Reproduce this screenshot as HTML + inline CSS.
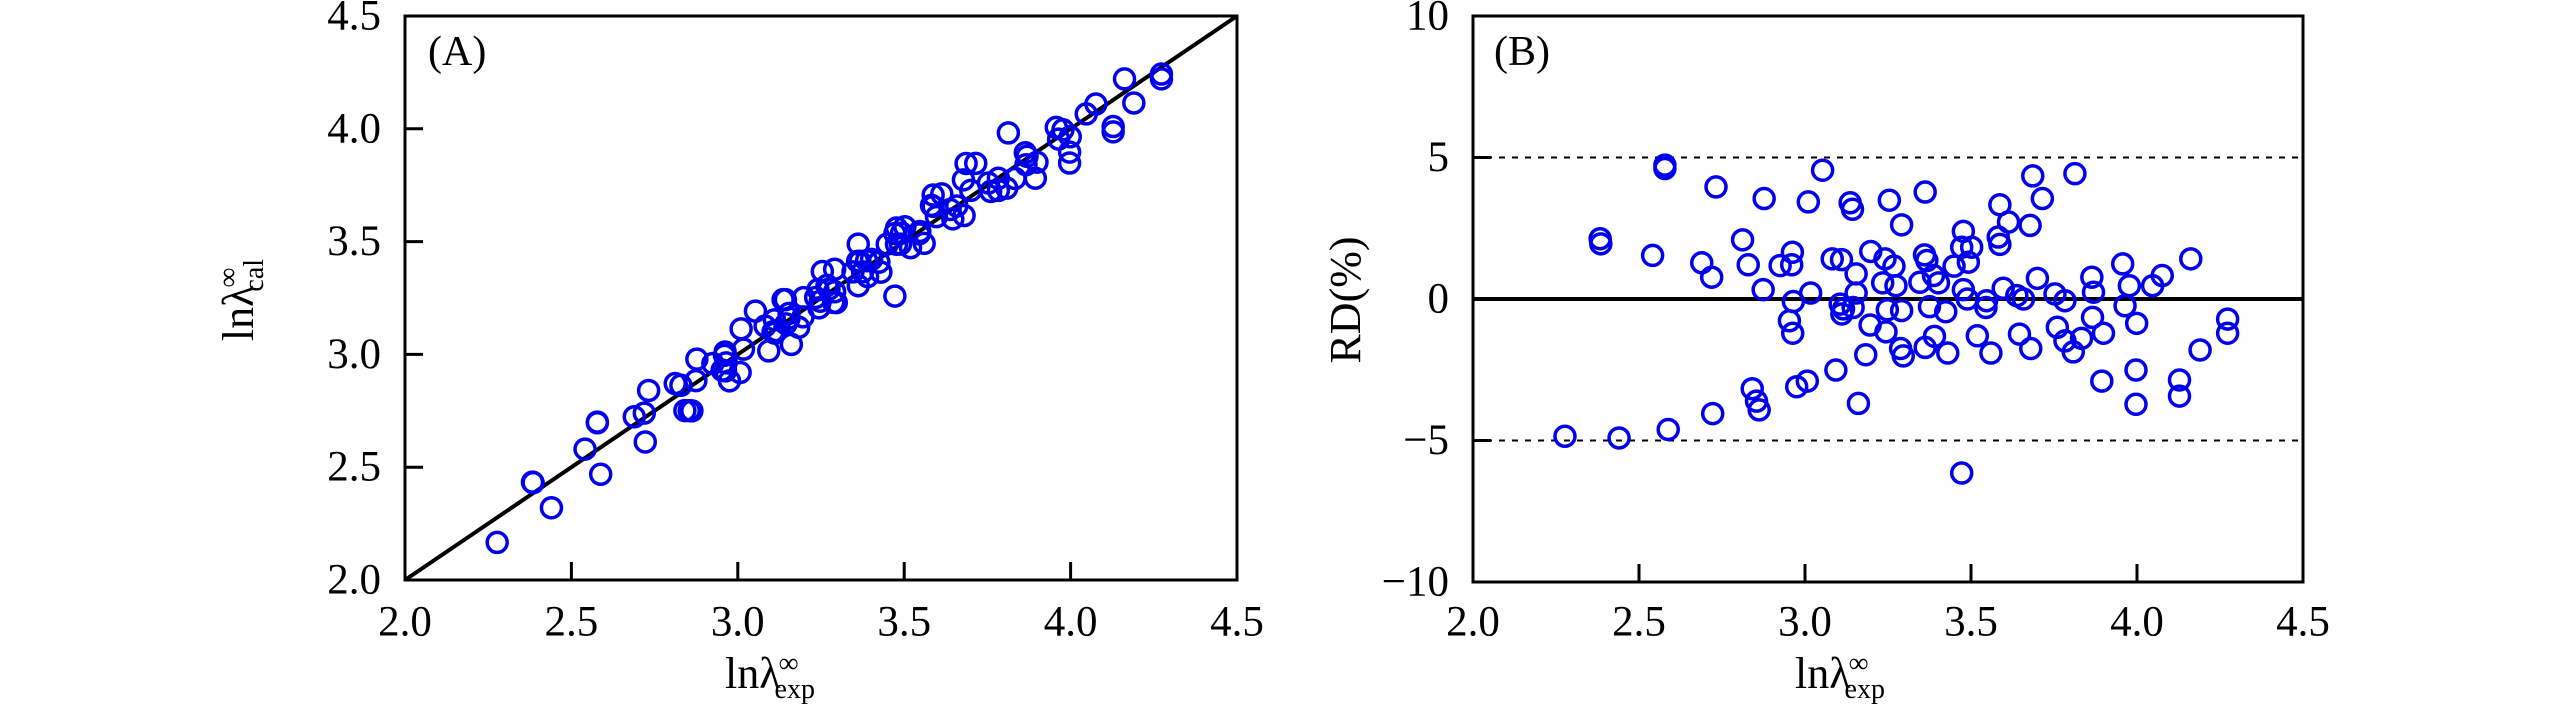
<!DOCTYPE html>
<html><head><meta charset="utf-8"><style>
html,body{margin:0;padding:0;background:#fff;}
svg{display:block;font-family:"Liberation Serif",serif;}
</style></head><body>
<svg id="fig" width="2567" height="709" viewBox="0 0 2567 709" xmlns="http://www.w3.org/2000/svg"></svg>
<script>
const xExp = [2.578,2.578,3.053,2.732,2.877,3.010,3.136,3.143,3.254,3.291,2.383,2.385,2.541,2.812,2.689,2.719,2.829,2.925,2.962,2.960,3.082,3.110,3.198,3.241,3.268,3.154,3.234,3.274,3.154,2.874,3.017,2.965,3.106,3.116,3.111,3.145,3.248,3.291,2.953,2.963,3.196,3.244,3.288,3.296,3.183,3.093,3.007,2.975,3.161,2.841,2.854,2.862,2.722,2.588,2.277,2.440,
3.362,3.686,3.813,3.715,3.587,3.613,3.678,3.477,3.472,3.502,3.582,3.587,3.492,3.449,3.360,3.367,3.387,3.402,3.346,3.477,3.489,3.547,3.545,3.597,3.638,3.658,3.700,3.753,3.783,3.864,3.869,3.957,3.977,3.964,4.047,4.076,4.162,3.375,3.424,3.362,3.390,3.430,3.519,3.560,3.646,3.680,3.760,3.783,3.808,3.833,3.866,3.899,3.999,4.273,4.273,4.190,3.997,3.997,3.894,4.128,4.128,3.472];
const rdPct = [4.73,4.61,4.55,3.96,3.55,3.43,3.40,3.17,3.49,2.62,2.13,1.95,1.54,2.09,1.28,0.77,1.21,1.18,1.65,1.21,1.42,1.39,1.68,1.42,1.16,0.89,0.57,0.47,0.21,0.33,0.21,-0.09,-0.18,-0.35,-0.53,-0.30,-0.38,-0.41,-0.77,-1.21,-0.92,-1.16,-1.75,-2.01,-1.97,-2.51,-2.90,-3.10,-3.69,-3.17,-3.61,-3.92,-4.05,-4.61,-4.85,-4.91,
3.78,4.35,4.43,3.55,3.33,2.72,2.60,2.39,1.83,1.83,2.19,1.93,1.30,1.16,1.56,1.36,0.83,0.57,0.59,0.33,0.00,-0.06,-0.30,0.38,0.12,0.00,0.73,0.18,-0.06,0.77,0.24,1.24,0.47,-0.24,0.47,0.83,1.42,-0.27,-0.45,-1.71,-1.32,-1.91,-1.30,-1.91,-1.24,-1.75,-1.00,-1.48,-1.87,-1.39,-0.65,-1.21,-0.86,-0.71,-1.21,-1.80,-2.51,-3.72,-2.90,-2.86,-3.43,-6.15];
const xTicks = [2.0,2.5,3.0,3.5,4.0,4.5];
const xTickLabels = ["2.0","2.5","3.0","3.5","4.0","4.5"];
const aYTicks = [2.0,2.5,3.0,3.5,4.0,4.5];
const aYTickLabels = ["2.0","2.5","3.0","3.5","4.0","4.5"];
const bYTicks = [-10,-5,0,5,10];
const bYTickLabels = ["\u221210","\u22125","0","5","10"];

const NS="http://www.w3.org/2000/svg";
const svg=document.getElementById('fig');
function mk(tag,attrs,parent){const e=document.createElementNS(NS,tag);for(const k in attrs)e.setAttribute(k,attrs[k]);(parent||svg).appendChild(e);return e;}

const A={l:405,r:1237,t:16,b:580};
const ax=v=>A.l+(v-2)/(2.5)*(A.r-A.l);
const ay=v=>A.b-(v-2)/(2.5)*(A.b-A.t);
const B={l:1473,r:2303,t:16,b:582};
const bx=v=>B.l+(v-2)/(2.5)*(B.r-B.l);
const by=v=>B.b-(v+10)/20*(B.b-B.t);

function frame(P,name){
  const r=mk('rect',{x:P.l,y:P.t,width:P.r-P.l,height:P.b-P.t,fill:'none',stroke:'#000','stroke-width':3});
  
  
}
function txt(x,y,s,anchor,size,name){
  const t=mk('text',{x:x,y:y,'text-anchor':anchor,'font-size':size,fill:'#000','dominant-baseline':'central'});
  t.textContent=s;
  
  
  return t;
}

frame(A,'panel-a-frame');
xTicks.forEach((v,i)=>{
  const l=mk('line',{x1:ax(v),x2:ax(v),y1:A.b,y2:A.b-18,stroke:'#000','stroke-width':3});
  
  
  txt(ax(v),622,xTickLabels[i],'middle',43,'panel-a-x-tick-label');
});
aYTicks.forEach((v,i)=>{
  const l=mk('line',{x1:A.l,x2:A.l+18,y1:ay(v),y2:ay(v),stroke:'#000','stroke-width':3});
  
  
  txt(A.l-24,ay(v),aYTickLabels[i],'end',43,'panel-a-y-tick-label');
});
const diag=mk('line',{x1:ax(2),y1:ay(2),x2:ax(4.5),y2:ay(4.5),stroke:'#000','stroke-width':4});


xExp.forEach((x,i)=>{
  const cal=x*(1+rdPct[i]/100);
  const c=mk('circle',{cx:ax(x),cy:ay(cal),r:10,fill:'none',stroke:'#0000ee','stroke-width':3.5});
  
  
});
txt(428,52,'(A)','start',42,'panel-a-label');

frame(B,'panel-b-frame');
[5,-5].forEach(v=>{
  const l=mk('line',{x1:B.l,x2:B.r,y1:by(v),y2:by(v),stroke:'#000','stroke-width':2,'stroke-dasharray':'6,7'});
  
  
});
const zero=mk('line',{x1:B.l,x2:B.r,y1:by(0),y2:by(0),stroke:'#000','stroke-width':4});


xTicks.forEach((v,i)=>{
  const l=mk('line',{x1:bx(v),x2:bx(v),y1:B.b,y2:B.b-18,stroke:'#000','stroke-width':3});
  
  
  txt(bx(v),622,xTickLabels[i],'middle',43,'panel-b-x-tick-label');
});
bYTicks.forEach((v,i)=>{
  const l=mk('line',{x1:B.l,x2:B.l+18,y1:by(v),y2:by(v),stroke:'#000','stroke-width':3});
  
  
  txt(B.l-24,by(v),bYTickLabels[i],'end',43,'panel-b-y-tick-label');
});
xExp.forEach((x,i)=>{
  const c=mk('circle',{cx:bx(x),cy:by(rdPct[i]),r:10,fill:'none',stroke:'#0000ee','stroke-width':3.5});
  
  
});
txt(1494,52,'(B)','start',42,'panel-b-label');
</script>
<svg style="position:absolute;left:0;top:0" width="2567" height="709">
<text x="770" y="688" text-anchor="middle" font-family="Liberation Serif, serif" font-size="44">lnλ<tspan font-size="28" dy="-16" dx="-2">∞</tspan><tspan font-size="28" dy="26" dx="-24">exp</tspan></text>
<text x="1840" y="688" text-anchor="middle" font-family="Liberation Serif, serif" font-size="44">lnλ<tspan font-size="28" dy="-16" dx="-2">∞</tspan><tspan font-size="28" dy="26" dx="-24">exp</tspan></text>
<text transform="translate(253,300) rotate(-90)" text-anchor="middle" font-family="Liberation Serif, serif" font-size="44">lnλ<tspan font-size="28" dy="-16" dx="-2">∞</tspan><tspan font-size="28" dy="26" dx="-24">cal</tspan></text>
<text transform="translate(1360,300) rotate(-90)" text-anchor="middle" font-family="Liberation Serif, serif" font-size="44">RD(%)</text>
</svg>
</body></html>
